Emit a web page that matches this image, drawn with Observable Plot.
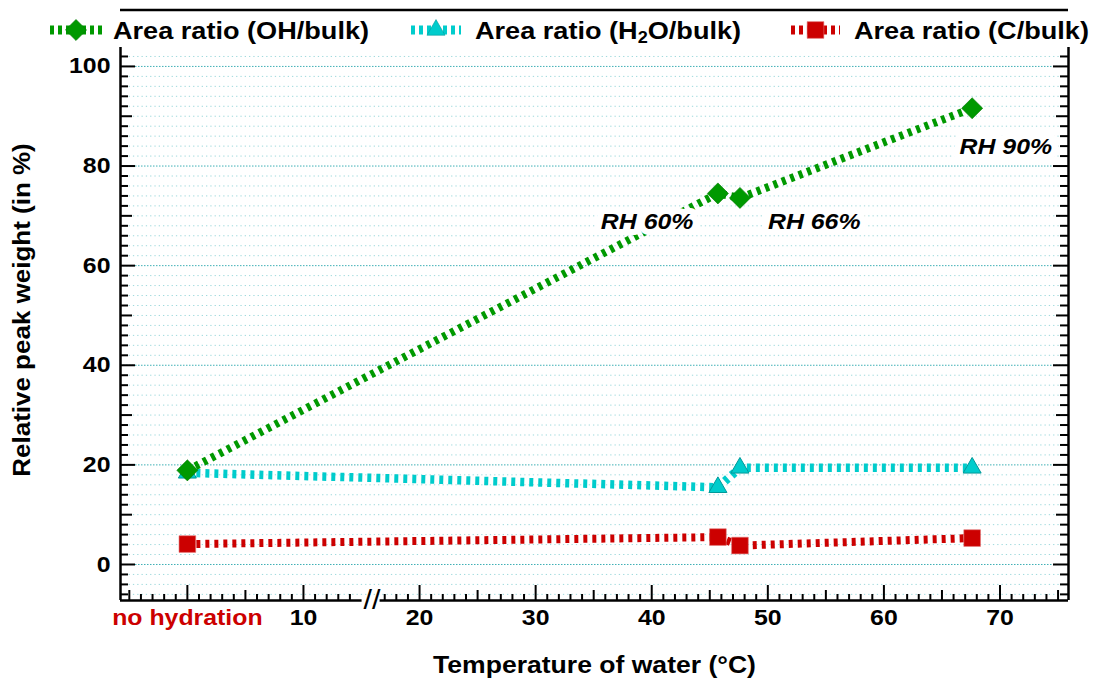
<!DOCTYPE html>
<html>
<head>
<meta charset="utf-8">
<script src="https://cdn.jsdelivr.net/npm/d3@7"></script>
<script src="https://cdn.jsdelivr.net/npm/@observablehq/plot@0.6"></script>
<style>
  html, body { margin: 0; padding: 0; background: #fff; }
  body { width: 1094px; height: 691px; overflow: hidden; font-family: "Liberation Sans", Arial, sans-serif; }
  #legend, #chart { display: block; }
</style>
</head>
<body>
<div id="legend"></div>
<div id="chart"></div>
<script>
// ---------- data ----------
const temps = [0, 45.7, 47.6, 67.6];            // °C (0 = "no hydration")
const ohValues = [18.9, 74.5, 73.6, 91.6];       // Area ratio (OH/bulk)
const h2oValues = [18.4, 15.5, 19.4, 19.4];      // Area ratio (H2O/bulk)
const cValues = [4.1, 5.5, 3.8, 5.3];            // Area ratio (C/bulk)
const seriesNames = ["Area ratio (OH/bulk)", "Area ratio (H2O/bulk)", "Area ratio (C/bulk)"];
const xTickValues = [0, 10, 20, 30, 40, 50, 60, 70];
const xTickLabels = ["no hydration", "10", "20", "30", "40", "50", "60", "70"];
const yTickValues = [0, 20, 40, 60, 80, 100];
const annotationLabels = ["RH 60%", "RH 66%", "RH 90%"];
const annotationX = [39.6, 54.0, 70.5];
const annotationY = [68.7, 68.7, 83.9];
const xTitle = "Temperature of water (°C)";
const yTitle = "Relative peak weight (in %)";

// ---------- layout / style ----------
const W = 1094, H = 644, ML = 120, MR = 26, MT = 0, MB = 91;
const xDomain = [-5.76, 75.9], yDomain = [-7.23, 103.8];
const breakFrom = 15.05, breakTo = 16.6, breakMark = 15.9;
const FONT = "'Liberation Sans', Arial, Helvetica, sans-serif";
const STRETCH = 1.13;
const colors = {oh: "#009900", h2o: "#00cccc", c: "#cc0000"};

const rows = vals => temps.map((t, i) => ({t, v: vals[i]}));
const ohRows = rows(ohValues), h2oRows = rows(h2oValues), cRows = rows(cValues);
const annRows = annotationLabels.map((label, i) => ({label, x: annotationX[i], y: annotationY[i]}));

const frameW = W - ML - MR, frameH = H - MT - MB;
const yMinor = d3.range(-6, 103, 2);
const xMinor = d3.range(-5, 76).filter(v => v <= 14 || v >= 17);
const yLen = v => v % 20 === 0 ? 15 : v % 10 === 0 ? 12 : 8;
const xLen = v => v % 10 === 0 ? 15 : v % 5 === 0 ? 10 : 6;

const dash = "4,5";
const lineOpts = {x: "t", y: "v", strokeDasharray: dash, strokeLinecap: "butt", strokeLinejoin: "miter"};

const chart = Plot.plot({
  width: W, height: H,
  marginLeft: ML, marginRight: MR, marginTop: MT, marginBottom: MB,
  x: {type: "linear", domain: xDomain, axis: null},
  y: {type: "linear", domain: yDomain, axis: null},
  style: {fontFamily: FONT, background: "white", overflow: "visible", color: "black"},
  marks: [
    // grid
    Plot.ruleY(yMinor.filter(v => v % 20 !== 0), {y: d => d, stroke: "#9fd9dc", strokeWidth: 1, strokeDasharray: "1.3,3"}),
    Plot.ruleY(yTickValues, {y: d => d, stroke: "#3fb0b6", strokeWidth: 1, strokeDasharray: "1.5,1.5"}),
    // H2O series
    Plot.line(h2oRows, {...lineOpts, stroke: colors.h2o, strokeWidth: 8.5}),
    Plot.dot(h2oRows, {x: "t", y: "v", symbol: "triangle", r: 6.7, fill: colors.h2o, stroke: "#009999", strokeWidth: 1}),
    // C series
    Plot.line(cRows, {...lineOpts, stroke: colors.c, strokeWidth: 8}),
    Plot.dot(cRows, {x: "t", y: "v", symbol: "square", r: 9.4, fill: colors.c, stroke: "#e07070", strokeWidth: 0.6}),
    // OH series
    Plot.line(ohRows, {...lineOpts, stroke: colors.oh, strokeWidth: 8}),
    Plot.dot(ohRows, {x: "t", y: "v", symbol: "square", rotate: 45, r: 8.4, fill: colors.oh, stroke: "#007a00", strokeWidth: 0.6}),
    // annotations
    Plot.text(annRows, {x: "x", y: "y", text: "label", fontSize: 22, fontWeight: "bold", fontStyle: "italic",
      fill: "black", stroke: "white", strokeWidth: 12, strokeLinejoin: "round", paintOrder: "stroke"}),
    // axis lines (left, right, bottom with break)
    Plot.ruleX([xDomain[0], xDomain[1]], {x: d => d, stroke: "black", strokeWidth: 2.5}),
    Plot.ruleY([{x1: xDomain[0], x2: breakFrom}, {x1: breakTo, x2: xDomain[1]}],
      {x1: "x1", x2: "x2", y: () => yDomain[0], stroke: "black", strokeWidth: 2.5}),
    // inward ticks
    ...[15, 12, 8].map(len => Plot.tickY(yMinor.filter(v => yLen(v) === len), {y: d => d, insetRight: frameW - len, stroke: "black", strokeWidth: 2})),
    ...[15, 12, 8].map(len => Plot.tickY(yMinor.filter(v => yLen(v) === len), {y: d => d, insetLeft: frameW - len, stroke: "black", strokeWidth: 2})),
    ...[15, 10, 6].map(len => Plot.tickX(xMinor.filter(v => xLen(v) === len), {x: d => d, insetTop: frameH - len, stroke: "black", strokeWidth: 2})),
    // break marker
    Plot.text(["//"], {x: () => breakMark, frameAnchor: "bottom", dy: 8, fontSize: 27, fontWeight: "normal", fill: "black", text: d => d}),
    // tick labels
    Plot.text(yTickValues, {y: d => d, frameAnchor: "left", dx: -10, textAnchor: "end", text: d => String(d),
      fontSize: 22, fontWeight: "bold", fill: "black"}),
    Plot.text(xTickValues.filter(v => v !== 0), {x: d => d, frameAnchor: "bottom", dy: 24,
      text: d => xTickLabels[xTickValues.indexOf(d)], fontSize: 22, fontWeight: "bold", fill: "black"}),
    Plot.text(xTickValues.filter(v => v === 0), {x: d => d, frameAnchor: "bottom", dy: 24,
      text: d => xTickLabels[xTickValues.indexOf(d)], fontSize: 22, fontWeight: "bold", fill: colors.c}),
    // axis titles
    Plot.text([xTitle], {frameAnchor: "bottom", dy: 72, text: d => d, fontSize: 23.5, fontWeight: "bold", fill: "black"}),
    Plot.text([yTitle], {frameAnchor: "left", dx: -98, dy: -14, rotate: -90, textAnchor: "middle", text: d => d,
      fontSize: 23, fontWeight: "bold", fill: "black"})
  ]
});

// horizontal stretch of the glyphs (the reference font is wide)
chart.querySelectorAll("text").forEach(t => {
  const tr = t.getAttribute("transform");
  if (tr) t.setAttribute("transform", tr + ` scale(${STRETCH},1)`);
});
document.getElementById("chart").appendChild(chart);

// ---------- legend (above the chart) ----------
const LH = 47;
const legendLayout = [
  {swatch: [50, 102], text: 113},
  {swatch: [411, 461], text: 475},
  {swatch: [791, 840], text: 854}
];
const legendStyle = [
  {color: colors.oh, symbol: d3.symbolSquare, size: Math.PI * 8.4 * 8.4, rotate: 45, stroke: "#007a00"},
  {color: colors.h2o, symbol: d3.symbolTriangle, size: Math.PI * 6.7 * 6.7, rotate: 0, stroke: "#009999"},
  {color: colors.c, symbol: d3.symbolSquare, size: Math.PI * 9.4 * 9.4, rotate: 0, stroke: "#e07070"}
];
const lg = d3.create("svg").attr("width", W).attr("height", LH)
  .attr("style", `display:block;font-family:${FONT};background:white;overflow:visible`);
lg.append("line").attr("x1", ML).attr("x2", W - MR).attr("y1", 10).attr("y2", 10)
  .attr("stroke", "black").attr("stroke-width", 2.5);
seriesNames.forEach((name, i) => {
  const L = legendLayout[i], S = legendStyle[i];
  const cy = 30;
  lg.append("line").attr("x1", L.swatch[0]).attr("x2", L.swatch[1]).attr("y1", cy).attr("y2", cy)
    .attr("stroke", S.color).attr("stroke-width", 9).attr("stroke-dasharray", "4,4");
  const cx = (L.swatch[0] + L.swatch[1]) / 2;
  lg.append("path").attr("d", d3.symbol(S.symbol, S.size)())
    .attr("transform", `translate(${cx},${cy}) rotate(${S.rotate})`)
    .attr("fill", S.color).attr("stroke", S.stroke).attr("stroke-width", 0.6);
  const t = lg.append("text").attr("transform", `translate(${L.text},39) scale(${STRETCH},1)`)
    .attr("font-size", 24).attr("font-weight", "bold").attr("fill", "black");
  const m = name.match(/^(.*H)2(O.*)$/);
  if (m) {
    t.append("tspan").text(m[1]);
    t.append("tspan").attr("font-size", 16).attr("dy", 4).text("2");
    t.append("tspan").attr("dy", -4).text(m[2]);
  } else {
    t.text(name);
  }
});
document.getElementById("legend").appendChild(lg.node());
</script>
</body>
</html>
